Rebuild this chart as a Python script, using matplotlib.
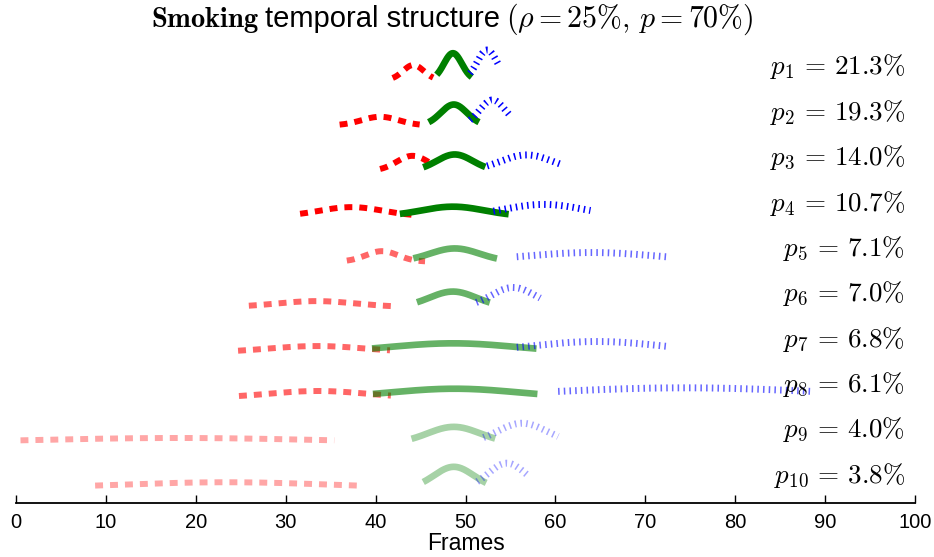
import numpy as np
import matplotlib
matplotlib.use("Agg")
import matplotlib.pyplot as plt

plt.rcParams['mathtext.fontset'] = 'cm'
plt.rcParams['font.family'] = ['Liberation Sans Narrow', 'Liberation Sans', 'DejaVu Sans']

# ---- data ----
row_percent = ["21.3", "19.3", "14.0", "10.7", "7.1", "7.0", "6.8", "6.1", "4.0", "3.8"]
row_alpha = [1.0, 1.0, 1.0, 1.0, 0.6, 0.6, 0.6, 0.6, 0.35, 0.35]

# before (red dashed)
red_mu = [44.2, 40.5, 44.1, 37.3, 40.7, 33.4, 33.5, 33.6, 18.0, 23.4]
red_sigma = [1.15, 2.05, 1.75, 3.5, 1.8, 4.3, 5.4, 5.4, 16.0, 12.0]
red_height = [0.33, 0.19, 0.33, 0.20, 0.23, 0.13, 0.14, 0.15, 0.115, 0.14]
red_start = [41.9, 36.0, 40.5, 31.6, 36.8, 25.9, 24.7, 24.8, 0.5, 8.8]
red_end = [46.4, 44.9, 45.9, 44.2, 45.5, 42.3, 41.6, 41.7, 35.4, 38.0]

# middle (green solid)
green_mu = [48.6, 48.7, 48.8, 48.6, 48.8, 48.6, 48.6, 48.8, 48.7, 48.7]
green_sigma = [1.0, 1.45, 2.0, 3.5, 2.75, 2.6, 7.0, 7.0, 2.9, 2.2]
green_height = [0.59, 0.46, 0.36, 0.21, 0.29, 0.34, 0.20, 0.20, 0.36, 0.48]
green_start = [46.8, 45.9, 45.3, 42.7, 44.2, 44.6, 39.6, 39.7, 44.0, 45.3]
green_end = [50.7, 51.5, 52.2, 54.8, 53.5, 52.7, 57.9, 58.0, 53.3, 52.3]

# after (blue dotted)
blue_mu = [52.4, 53.0, 56.8, 58.7, 64.0, 55.3, 64.6, 74.4, 56.3, 54.6]
blue_sigma = [1.1, 1.42, 2.85, 4.3, 7.4, 2.4, 7.2, 15.0, 2.7, 2.05]
blue_height = [0.66, 0.56, 0.35, 0.26, 0.20, 0.43, 0.24, 0.22, 0.44, 0.56]
blue_start = [50.5, 50.5, 52.4, 53.1, 55.7, 51.2, 55.7, 60.3, 52.0, 51.3]
blue_end = [53.6, 55.1, 60.8, 63.9, 72.6, 58.3, 72.4, 88.5, 60.3, 57.0]

x_ticks = [0, 10, 20, 30, 40, 50, 60, 70, 80, 90, 100]

title_parts = [r"$\mathbf{Smoking}$", "temporal structure", r"$(\rho = 25\%,\, p = 70\%)$"]
title_sizes = [20.5, 21.0, 21.5]

# ---- figure ----
W, H = 934, 557
fig = plt.figure(figsize=(W / 100, H / 100), dpi=100)
ax = fig.add_axes([16 / W, 54 / H, 899 / W, 468 / H])

n_rows = len(row_percent)


def bump(mu, sigma, height, x0, x1, base):
    x = np.linspace(x0, x1, 200)
    y = base + height * np.exp(-(x - mu) ** 2 / (2 * sigma ** 2))
    return x, y


for i in range(n_rows):
    base = n_rows - 1 - i
    a = row_alpha[i]
    x, y = bump(red_mu[i], red_sigma[i], red_height[i], red_start[i], red_end[i], base)
    ax.plot(x, y, color='red', lw=4.3, dashes=(1.33, 1.17), alpha=a, dash_capstyle='butt')
    x, y = bump(green_mu[i], green_sigma[i], green_height[i], green_start[i], green_end[i], base)
    ax.plot(x, y, color='green', lw=4.8, alpha=a, solid_capstyle='butt')
    x, y = bump(blue_mu[i], blue_sigma[i], blue_height[i], blue_start[i], blue_end[i], base)
    ax.plot(x, y, color='blue', lw=5.0, dashes=(0.22, 0.6), alpha=a, dash_capstyle='butt')
    ax.text(98.9, base + 0.29, r"$p_{%d}\,=\,%s\%%$" % (i + 1, row_percent[i]),
            ha='right', va='center', fontsize=19.5)

ax.set_xlim(0, 100)
ax.set_ylim(-0.317, 9.991)
ax.set_xticks(x_ticks)
ax.set_xticklabels([str(t) for t in x_ticks], fontsize=14.5)
ax.set_yticks([])
for s in ['left', 'right', 'top']:
    ax.spines[s].set_visible(False)
ax.spines['bottom'].set_linewidth(1.3)
ax.tick_params(axis='x', direction='in', length=6, width=1, pad=7)
ax.set_xlabel("Frames", fontsize=16.5, labelpad=0)

# title composed from three pieces (bold serif / sans / math)
renderer = fig.canvas.get_renderer()
gap = 6
texts = []
widths = []
for s, fs in zip(title_parts, title_sizes):
    t = fig.text(0, 1 - 27 / H, s, fontsize=fs, ha='left', va='baseline')
    texts.append(t)
    widths.append(t.get_window_extent(renderer).width)
total = sum(widths) + gap * (len(widths) - 1)
x_left = 452 - total / 2
for t, w in zip(texts, widths):
    t.set_x(x_left / W)
    x_left += w + gap

fig.savefig("out.png", dpi=100)
